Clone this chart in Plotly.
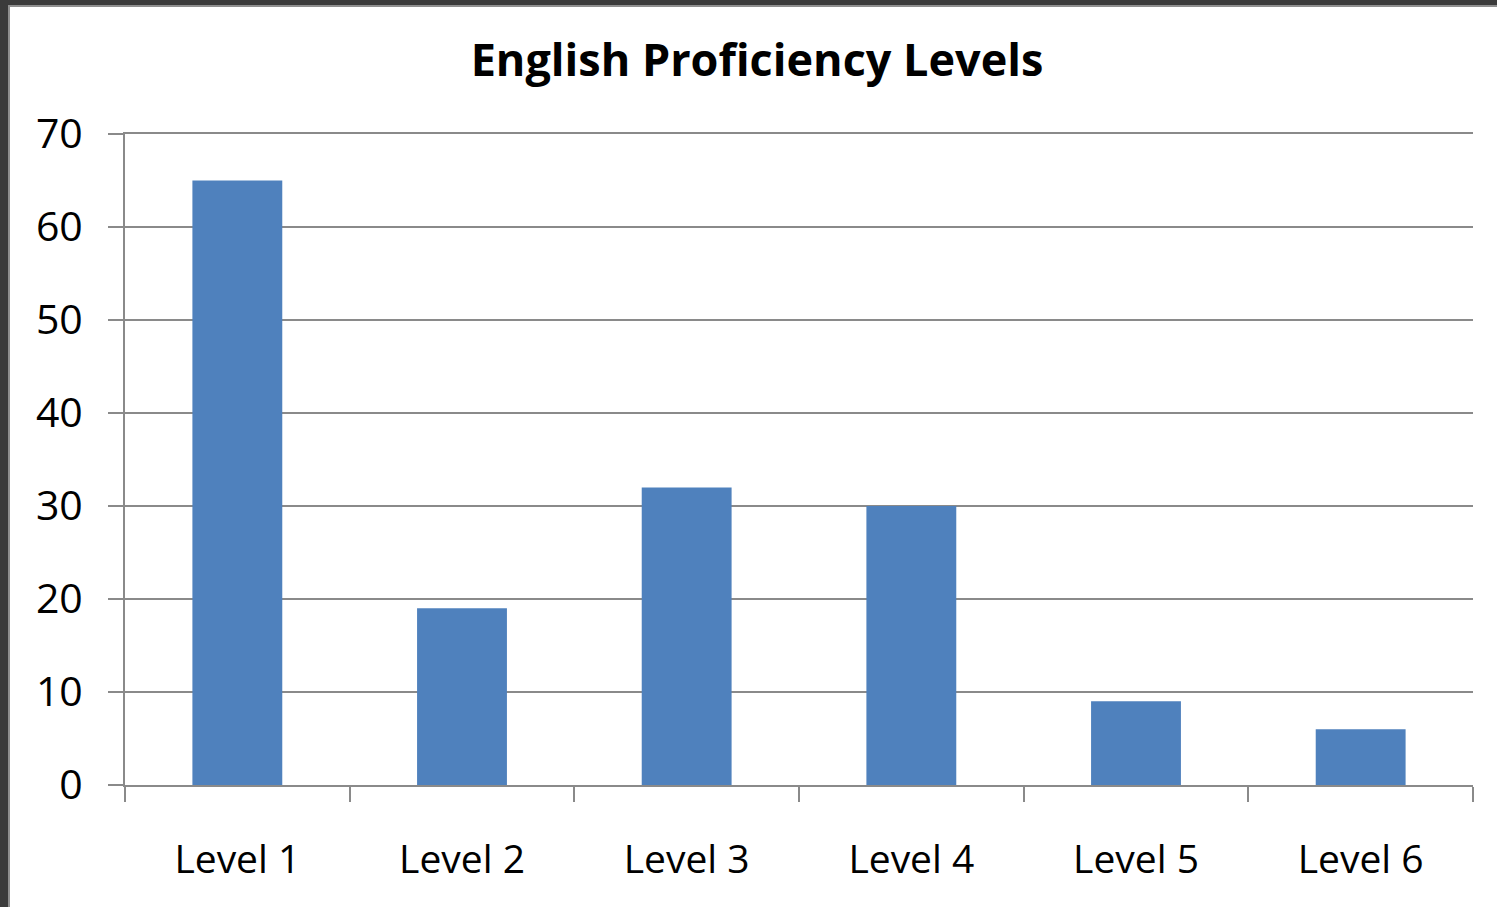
import plotly.graph_objects as go

categories = ["Level 1", "Level 2", "Level 3", "Level 4", "Level 5", "Level 6"]
values = [65, 19, 32, 30, 9, 6]
y_ticks = [0, 10, 20, 30, 40, 50, 60, 70]

W, H = 1497, 907
L, R, T, B = 125, 24, 134, 122
pw, ph = W - L - R, H - T - B

def px_x(p):
    return (p - L) / pw

def px_y(p):
    return (H - B - p) / ph

fig = go.Figure()
fig.add_trace(go.Bar(
    x=categories, y=values,
    marker=dict(color="#4f81bd", line=dict(width=0)),
    width=0.4,
))

grid = "#8a8a8a"
fig.update_layout(
    width=W, height=H,
    margin=dict(l=L, r=R, t=T, b=B),
    paper_bgcolor="#3b3b3b",
    plot_bgcolor="white",
    showlegend=False,
    font=dict(family="Open Sans", color="black"),
    title=dict(
        text="<b>English Proficiency Levels</b>",
        font=dict(size=45, family="Open Sans", color="black"),
        x=px_x(757), xref="paper", xanchor="center",
        y=1 - 60 / H, yref="container", yanchor="middle",
    ),
    xaxis=dict(
        showgrid=False,
        showline=True, linecolor=grid, linewidth=2, mirror=True,
        ticks="outside", tickson="boundaries", ticklen=15, tickwidth=2, tickcolor=grid,
        tickfont=dict(size=39, family="Open Sans", color="black"),
        ticklabelstandoff=39,
        range=[-0.5, 5.5],
    ),
    yaxis=dict(
        range=[0, 70],
        tickvals=y_ticks,
        showgrid=True, gridcolor=grid, gridwidth=2,
        showline=True, linecolor=grid, linewidth=2,
        ticks="outside", ticklen=15, tickwidth=2, tickcolor=grid,
        tickfont=dict(size=41, family="Open Sans", color="black"),
        ticklabelstandoff=17,
        zeroline=False,
    ),
    shapes=[dict(
        type="rect", xref="paper", yref="paper", layer="below",
        x0=px_x(9), x1=px_x(W + 5), y0=px_y(6), y1=px_y(H + 5),
        fillcolor="white", line=dict(color="#8f8f8f", width=2),
    )],
)

fig.write_html(
    "out.html",
    config={"displayModeBar": False},
    post_script="document.body.style.margin='0';document.body.style.overflow='hidden';",
)
